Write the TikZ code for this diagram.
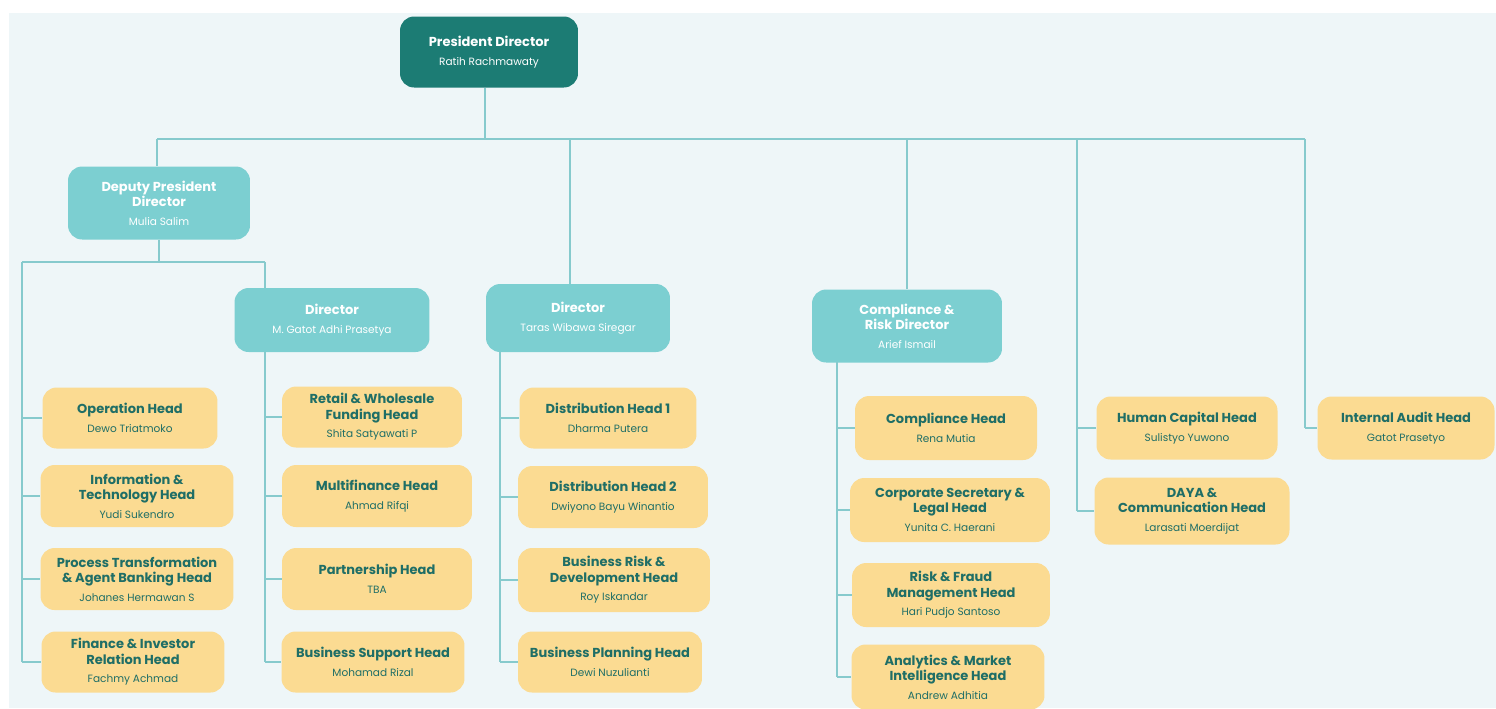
\documentclass[tikz,border=0pt]{standalone}
\usepackage{fontspec}
\setmainfont{Poppins}

\definecolor{panelbg}{HTML}{EEF6F8}
\definecolor{linkteal}{HTML}{86CACD}
\definecolor{chiefteal}{HTML}{1C7C74}
\definecolor{dirteal}{HTML}{7CCFD1}
\definecolor{headyellow}{HTML}{FBDB92}
\definecolor{headtext}{HTML}{1F6E66}

\newcommand\hd[1]{\textbf{#1}}
\newcommand\nm[1]{{\fontsize{6}{8}\selectfont #1}}

\tikzset{
  box/.style={rounded corners=8pt, align=center, inner sep=2pt,
    font=\fontsize{7.4}{8.6}\selectfont},
  chief/.style={box, fill=chiefteal, text=white,
    minimum width=3.56cm, minimum height=1.42cm},
  director/.style={box, fill=dirteal, text=white,
    minimum width=3.7cm, minimum height=1.32cm},
  head/.style={box, fill=headyellow, text=headtext,
    minimum width=3.56cm, minimum height=1.22cm},
  link/.style={draw=linkteal, line width=0.6pt},
}

\begin{document}
\begin{tikzpicture}[x=0.02cm, y=-0.02cm]
\useasboundingbox (0,0) rectangle (1496,708);
\fill[white] (0,0) rectangle (1496,708);
\fill[panelbg] (9,13) rectangle (1496,708);

% junctions of the tree
\coordinate (trunkl) at (157,139);
\coordinate (trunkr) at (1305,139);
\coordinate (prestop) at (485,139);
\coordinate (tarastop) at (570,139);
\coordinate (hcx) at (1077,139);
\coordinate (depl) at (22,262);
\coordinate (depr) at (265,262);
\coordinate (tarasx) at (500,352);
\coordinate (compx) at (837,362);

% board
\node[chief] (pres) at (489,52) {\hd{President Director}\\[2pt]\nm{Ratih Rachmawaty}};
\node[director, minimum width=3.64cm, minimum height=1.46cm] (deputy) at (159,203)
  {\hd{Deputy President}\\\hd{Director}\\[2pt]\nm{Mulia Salim}};
\node[director, minimum width=3.9cm, minimum height=1.28cm] (dirgatot) at (332,320)
  {\hd{Director}\\[2pt]\nm{M. Gatot Adhi Prasetya}};
\node[director, minimum width=3.68cm, minimum height=1.36cm] (dirtaras) at (578,318)
  {\hd{Director}\\[2pt]\nm{Taras Wibawa Siregar}};
\node[director, minimum width=3.8cm, minimum height=1.46cm] (dircomp) at (907,326)
  {\hd{Compliance \&}\\\hd{Risk Director}\\[2pt]\nm{Arief Ismail}};

% heads under the deputy
\node[head, minimum width=3.5cm] (ops) at (130,418)
  {\hd{Operation Head}\\[2pt]\nm{Dewo Triatmoko}};
\node[head, minimum width=3.86cm, minimum height=1.24cm] (itech) at (137,496)
  {\hd{Information \&}\\\hd{Technology Head}\\[2pt]\nm{Yudi Sukendro}};
\node[head, minimum width=3.86cm, minimum height=1.24cm] (proc) at (137,579)
  {\hd{Process Transformation}\\\hd{\& Agent Banking Head}\\[2pt]\nm{Johanes Hermawan S}};
\node[head, minimum width=3.66cm] (fin) at (133,662)
  {\hd{Finance \& Investor}\\\hd{Relation Head}\\[2pt]\nm{Fachmy Achmad}};

% heads under M. Gatot Adhi Prasetya
\node[head, minimum width=3.6cm] (retail) at (372,417)
  {\hd{Retail \& Wholesale}\\\hd{Funding Head}\\[2pt]\nm{Shita Satyawati P}};
\node[head, minimum width=3.8cm, minimum height=1.24cm] (multi) at (377,496)
  {\hd{Multifinance Head}\\[2pt]\nm{Ahmad Rifqi}};
\node[head, minimum width=3.8cm, minimum height=1.24cm] (partner) at (377,579)
  {\hd{Partnership Head}\\[2pt]\nm{TBA}};
\node[head, minimum width=3.66cm] (bsup) at (373,662)
  {\hd{Business Support Head}\\[2pt]\nm{Mohamad Rizal}};

% heads under Taras Wibawa Siregar
\node[head, minimum width=3.54cm] (dist1) at (608,418)
  {\hd{Distribution Head 1}\\[2pt]\nm{Dharma Putera}};
\node[head, minimum width=3.8cm, minimum height=1.24cm] (dist2) at (613,497)
  {\hd{Distribution Head 2}\\[2pt]\nm{Dwiyono Bayu Winantio}};
\node[head, minimum width=3.84cm, minimum height=1.28cm] (brisk) at (614,580)
  {\hd{Business Risk \&}\\\hd{Development Head}\\[2pt]\nm{Roy Iskandar}};
\node[head, minimum width=3.68cm] (bplan) at (610,662)
  {\hd{Business Planning Head}\\[2pt]\nm{Dewi Nuzulianti}};

% heads under Arief Ismail
\node[head, minimum width=3.64cm, minimum height=1.28cm] (comph) at (946,428)
  {\hd{Compliance Head}\\[2pt]\nm{Rena Mutia}};
\node[head, minimum width=4.0cm, minimum height=1.28cm] (corpsec) at (950,510)
  {\hd{Corporate Secretary \&}\\\hd{Legal Head}\\[2pt]\nm{Yunita C. Haerani}};
\node[head, minimum width=3.96cm, minimum height=1.28cm] (riskf) at (951,595)
  {\hd{Risk \& Fraud}\\\hd{Management Head}\\[2pt]\nm{Hari Pudjo Santoso}};
\node[head, minimum width=3.86cm, minimum height=1.3cm] (analytics) at (948,677)
  {\hd{Analytics \& Market}\\\hd{Intelligence Head}\\[2pt]\nm{Andrew Adhitia}};

% heads under the president
\node[head, minimum width=3.62cm, minimum height=1.26cm] (hcap) at (1187,428)
  {\hd{Human Capital Head}\\[2pt]\nm{Sulistyo Yuwono}};
\node[head, minimum width=3.9cm, minimum height=1.34cm] (daya) at (1192,511)
  {\hd{DAYA \&}\\\hd{Communication Head}\\[2pt]\nm{Larasati Moerdijat}};
\node[head, minimum width=3.54cm, minimum height=1.26cm] (audit) at (1406,428)
  {\hd{Internal Audit Head}\\[2pt]\nm{Gatot Prasetyo}};

% top level lines
\draw[link] (prestop |- pres.south) -- (prestop);
\draw[link] (trunkl) -- (trunkr);
\draw[link] (trunkl) -- (trunkl |- deputy.north);
\draw[link] (tarastop) -- (tarastop |- dirtaras.north);
\draw[link] (dircomp.north |- trunkl) -- (dircomp.north);
\draw[link] (hcx) -- (hcx |- daya.west);
\draw[link] (trunkr) -- (trunkr |- audit.west);

% deputy branch
\draw[link] (deputy) -- (deputy |- depl);
\draw[link] (depl) -- (depr);
\draw[link] (depr) -- (depr |- dirgatot.north);
\draw[link] (depl) -- (depl |- fin.west);
\draw[link] (dirgatot.south -| depr) -- (depr |- bsup.west);

% directors' columns
\draw[link] (tarasx) -- (tarasx |- bplan.west);
\draw[link] (compx) -- (compx |- analytics.west);

% branches to the heads
\foreach \b in {ops,itech,proc,fin}
  \draw[link] (depl |- \b.west) -- (\b.west);
\foreach \b in {retail,multi,partner,bsup}
  \draw[link] (depr |- \b.west) -- (\b.west);
\foreach \b in {dist1,dist2,brisk,bplan}
  \draw[link] (tarasx |- \b.west) -- (\b.west);
\foreach \b in {comph,corpsec,riskf,analytics}
  \draw[link] (compx |- \b.west) -- (\b.west);
\foreach \b in {hcap,daya}
  \draw[link] (hcx |- \b.west) -- (\b.west);
\draw[link] (trunkr |- audit.west) -- (audit.west);
\end{tikzpicture}
\end{document}
